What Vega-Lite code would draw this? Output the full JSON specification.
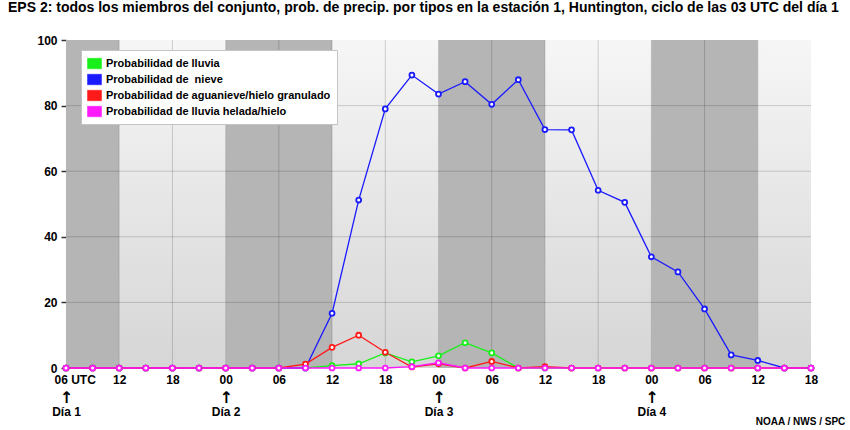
{
  "$schema": "https://vega.github.io/schema/vega-lite/v6.json",
  "autosize": {"type": "none"},
  "width": 745,
  "height": 328,
  "padding": {"left": 66, "top": 40, "right": 39, "bottom": 62},
  "background": "white",
  "title": {
    "text": "EPS 2: todos los miembros del conjunto, prob. de precip. por tipos en la estación 1, Huntington, ciclo de las 03 UTC del día 1",
    "anchor": "start",
    "frame": "group",
    "dx": -58,
    "offset": 8,
    "baseline": "alphabetic",
    "font": "Liberation Sans",
    "fontSize": 14,
    "fontWeight": "bold",
    "color": "#000000"
  },
  "config": {
    "view": {"stroke": null},
    "font": "Liberation Sans"
  },
  "datasets": {
    "dark": [{"a": 0, "b": 6}, {"a": 18, "b": 30}, {"a": 42, "b": 54}, {"a": 66, "b": 78}],
    "light": [{"a": 6, "b": 18}, {"a": 30, "b": 42}, {"a": 54, "b": 66}, {"a": 78, "b": 84}],
    "vgrid": [{"t": 6}, {"t": 12}, {"t": 18}, {"t": 24}, {"t": 30}, {"t": 36}, {"t": 42}, {"t": 48}, {"t": 54}, {"t": 60}, {"t": 66}, {"t": 72}, {"t": 78}],
    "hgrid": [{"g": 20}, {"g": 40}, {"g": 60}, {"g": 80}],
    "series": [
      {"s": "Probabilidad de lluvia", "t": 0, "v": 0},
      {"s": "Probabilidad de lluvia", "t": 3, "v": 0},
      {"s": "Probabilidad de lluvia", "t": 6, "v": 0},
      {"s": "Probabilidad de lluvia", "t": 9, "v": 0},
      {"s": "Probabilidad de lluvia", "t": 12, "v": 0},
      {"s": "Probabilidad de lluvia", "t": 15, "v": 0},
      {"s": "Probabilidad de lluvia", "t": 18, "v": 0},
      {"s": "Probabilidad de lluvia", "t": 21, "v": 0},
      {"s": "Probabilidad de lluvia", "t": 24, "v": 0},
      {"s": "Probabilidad de lluvia", "t": 27, "v": 0},
      {"s": "Probabilidad de lluvia", "t": 30, "v": 0.7},
      {"s": "Probabilidad de lluvia", "t": 33, "v": 1.3},
      {"s": "Probabilidad de lluvia", "t": 36, "v": 4.6},
      {"s": "Probabilidad de lluvia", "t": 39, "v": 1.9},
      {"s": "Probabilidad de lluvia", "t": 42, "v": 3.7},
      {"s": "Probabilidad de lluvia", "t": 45, "v": 7.7},
      {"s": "Probabilidad de lluvia", "t": 48, "v": 4.6},
      {"s": "Probabilidad de lluvia", "t": 51, "v": 0},
      {"s": "Probabilidad de lluvia", "t": 54, "v": 0},
      {"s": "Probabilidad de lluvia", "t": 57, "v": 0},
      {"s": "Probabilidad de lluvia", "t": 60, "v": 0},
      {"s": "Probabilidad de lluvia", "t": 63, "v": 0},
      {"s": "Probabilidad de lluvia", "t": 66, "v": 0},
      {"s": "Probabilidad de lluvia", "t": 69, "v": 0},
      {"s": "Probabilidad de lluvia", "t": 72, "v": 0},
      {"s": "Probabilidad de lluvia", "t": 75, "v": 0},
      {"s": "Probabilidad de lluvia", "t": 78, "v": 0},
      {"s": "Probabilidad de lluvia", "t": 81, "v": 0},
      {"s": "Probabilidad de lluvia", "t": 84, "v": 0},
      {"s": "Probabilidad de \u00a0nieve", "t": 0, "v": 0},
      {"s": "Probabilidad de \u00a0nieve", "t": 3, "v": 0},
      {"s": "Probabilidad de \u00a0nieve", "t": 6, "v": 0},
      {"s": "Probabilidad de \u00a0nieve", "t": 9, "v": 0},
      {"s": "Probabilidad de \u00a0nieve", "t": 12, "v": 0},
      {"s": "Probabilidad de \u00a0nieve", "t": 15, "v": 0},
      {"s": "Probabilidad de \u00a0nieve", "t": 18, "v": 0},
      {"s": "Probabilidad de \u00a0nieve", "t": 21, "v": 0},
      {"s": "Probabilidad de \u00a0nieve", "t": 24, "v": 0},
      {"s": "Probabilidad de \u00a0nieve", "t": 27, "v": 0},
      {"s": "Probabilidad de \u00a0nieve", "t": 30, "v": 16.7},
      {"s": "Probabilidad de \u00a0nieve", "t": 33, "v": 51.2},
      {"s": "Probabilidad de \u00a0nieve", "t": 36, "v": 79.0},
      {"s": "Probabilidad de \u00a0nieve", "t": 39, "v": 89.3},
      {"s": "Probabilidad de \u00a0nieve", "t": 42, "v": 83.5},
      {"s": "Probabilidad de \u00a0nieve", "t": 45, "v": 87.3},
      {"s": "Probabilidad de \u00a0nieve", "t": 48, "v": 80.4},
      {"s": "Probabilidad de \u00a0nieve", "t": 51, "v": 87.9},
      {"s": "Probabilidad de \u00a0nieve", "t": 54, "v": 72.7},
      {"s": "Probabilidad de \u00a0nieve", "t": 57, "v": 72.6},
      {"s": "Probabilidad de \u00a0nieve", "t": 60, "v": 54.2},
      {"s": "Probabilidad de \u00a0nieve", "t": 63, "v": 50.5},
      {"s": "Probabilidad de \u00a0nieve", "t": 66, "v": 33.9},
      {"s": "Probabilidad de \u00a0nieve", "t": 69, "v": 29.3},
      {"s": "Probabilidad de \u00a0nieve", "t": 72, "v": 18.0},
      {"s": "Probabilidad de \u00a0nieve", "t": 75, "v": 4.0},
      {"s": "Probabilidad de \u00a0nieve", "t": 78, "v": 2.3},
      {"s": "Probabilidad de \u00a0nieve", "t": 81, "v": 0},
      {"s": "Probabilidad de \u00a0nieve", "t": 84, "v": 0},
      {"s": "Probabilidad de aguanieve/hielo granulado", "t": 0, "v": 0},
      {"s": "Probabilidad de aguanieve/hielo granulado", "t": 3, "v": 0},
      {"s": "Probabilidad de aguanieve/hielo granulado", "t": 6, "v": 0},
      {"s": "Probabilidad de aguanieve/hielo granulado", "t": 9, "v": 0},
      {"s": "Probabilidad de aguanieve/hielo granulado", "t": 12, "v": 0},
      {"s": "Probabilidad de aguanieve/hielo granulado", "t": 15, "v": 0},
      {"s": "Probabilidad de aguanieve/hielo granulado", "t": 18, "v": 0},
      {"s": "Probabilidad de aguanieve/hielo granulado", "t": 21, "v": 0},
      {"s": "Probabilidad de aguanieve/hielo granulado", "t": 24, "v": 0},
      {"s": "Probabilidad de aguanieve/hielo granulado", "t": 27, "v": 1.2},
      {"s": "Probabilidad de aguanieve/hielo granulado", "t": 30, "v": 6.3},
      {"s": "Probabilidad de aguanieve/hielo granulado", "t": 33, "v": 10.0},
      {"s": "Probabilidad de aguanieve/hielo granulado", "t": 36, "v": 4.8},
      {"s": "Probabilidad de aguanieve/hielo granulado", "t": 39, "v": 0.3},
      {"s": "Probabilidad de aguanieve/hielo granulado", "t": 42, "v": 1.3},
      {"s": "Probabilidad de aguanieve/hielo granulado", "t": 45, "v": 0},
      {"s": "Probabilidad de aguanieve/hielo granulado", "t": 48, "v": 2.0},
      {"s": "Probabilidad de aguanieve/hielo granulado", "t": 51, "v": 0},
      {"s": "Probabilidad de aguanieve/hielo granulado", "t": 54, "v": 0.4},
      {"s": "Probabilidad de aguanieve/hielo granulado", "t": 57, "v": 0},
      {"s": "Probabilidad de aguanieve/hielo granulado", "t": 60, "v": 0},
      {"s": "Probabilidad de aguanieve/hielo granulado", "t": 63, "v": 0},
      {"s": "Probabilidad de aguanieve/hielo granulado", "t": 66, "v": 0},
      {"s": "Probabilidad de aguanieve/hielo granulado", "t": 69, "v": 0},
      {"s": "Probabilidad de aguanieve/hielo granulado", "t": 72, "v": 0},
      {"s": "Probabilidad de aguanieve/hielo granulado", "t": 75, "v": 0},
      {"s": "Probabilidad de aguanieve/hielo granulado", "t": 78, "v": 0},
      {"s": "Probabilidad de aguanieve/hielo granulado", "t": 81, "v": 0},
      {"s": "Probabilidad de aguanieve/hielo granulado", "t": 84, "v": 0},
      {"s": "Probabilidad de lluvia helada/hielo", "t": 0, "v": 0},
      {"s": "Probabilidad de lluvia helada/hielo", "t": 3, "v": 0},
      {"s": "Probabilidad de lluvia helada/hielo", "t": 6, "v": 0},
      {"s": "Probabilidad de lluvia helada/hielo", "t": 9, "v": 0},
      {"s": "Probabilidad de lluvia helada/hielo", "t": 12, "v": 0},
      {"s": "Probabilidad de lluvia helada/hielo", "t": 15, "v": 0},
      {"s": "Probabilidad de lluvia helada/hielo", "t": 18, "v": 0},
      {"s": "Probabilidad de lluvia helada/hielo", "t": 21, "v": 0},
      {"s": "Probabilidad de lluvia helada/hielo", "t": 24, "v": 0},
      {"s": "Probabilidad de lluvia helada/hielo", "t": 27, "v": 0},
      {"s": "Probabilidad de lluvia helada/hielo", "t": 30, "v": 0},
      {"s": "Probabilidad de lluvia helada/hielo", "t": 33, "v": 0},
      {"s": "Probabilidad de lluvia helada/hielo", "t": 36, "v": 0},
      {"s": "Probabilidad de lluvia helada/hielo", "t": 39, "v": 0.4},
      {"s": "Probabilidad de lluvia helada/hielo", "t": 42, "v": 1.6},
      {"s": "Probabilidad de lluvia helada/hielo", "t": 45, "v": 0},
      {"s": "Probabilidad de lluvia helada/hielo", "t": 48, "v": 0},
      {"s": "Probabilidad de lluvia helada/hielo", "t": 51, "v": 0},
      {"s": "Probabilidad de lluvia helada/hielo", "t": 54, "v": 0},
      {"s": "Probabilidad de lluvia helada/hielo", "t": 57, "v": 0},
      {"s": "Probabilidad de lluvia helada/hielo", "t": 60, "v": 0},
      {"s": "Probabilidad de lluvia helada/hielo", "t": 63, "v": 0},
      {"s": "Probabilidad de lluvia helada/hielo", "t": 66, "v": 0},
      {"s": "Probabilidad de lluvia helada/hielo", "t": 69, "v": 0},
      {"s": "Probabilidad de lluvia helada/hielo", "t": 72, "v": 0},
      {"s": "Probabilidad de lluvia helada/hielo", "t": 75, "v": 0},
      {"s": "Probabilidad de lluvia helada/hielo", "t": 78, "v": 0},
      {"s": "Probabilidad de lluvia helada/hielo", "t": 81, "v": 0},
      {"s": "Probabilidad de lluvia helada/hielo", "t": 84, "v": 0}
    ]
  },
  "resolve": {"axis": {"x": "independent"}},
  "layer": [
    {
      "data": {"name": "dark"},
      "mark": {"type": "rect", "color": "#b5b5b5"},
      "encoding": {
        "x": {
          "field": "a", "type": "quantitative",
          "scale": {"domain": [0, 84], "nice": false, "zero": false},
          "axis": {
            "orient": "bottom",
            "values": [0, 18, 42, 66],
            "labelExpr": "'↑'",
            "domain": false,
            "ticks": false,
            "tickSize": 0,
            "grid": false,
            "title": null,
            "labelFlush": false,
            "labelOverlap": false,
            "labelBound": false,
            "labelFont": "DejaVu Sans",
            "labelFontWeight": "bold",
            "labelFontSize": 16,
            "labelColor": "#000000",
            "labelPadding": 21
          }
        },
        "x2": {"field": "b"}
      }
    },
    {
      "data": {"name": "light"},
      "mark": {
        "type": "rect",
        "color": {
          "gradient": "linear", "x1": 0, "y1": 0, "x2": 0, "y2": 1,
          "stops": [{"offset": 0, "color": "#f6f6f6"}, {"offset": 1, "color": "#d6d6d6"}]
        }
      },
      "encoding": {
        "x": {"field": "a", "type": "quantitative", "scale": {"domain": [0, 84], "nice": false, "zero": false}, "axis": null},
        "x2": {"field": "b"}
      }
    },
    {
      "data": {"name": "hgrid"},
      "mark": {"type": "rule", "color": "#000000", "opacity": 0.17, "strokeWidth": 1},
      "encoding": {
        "y": {
          "field": "g", "type": "quantitative",
          "scale": {"domain": [0, 100], "nice": false}
        }
      }
    },
    {
      "data": {"name": "vgrid"},
      "mark": {"type": "rule", "color": "#000000", "opacity": 0.17, "strokeWidth": 1},
      "encoding": {
        "x": {
          "field": "t", "type": "quantitative",
          "scale": {"domain": [0, 84], "nice": false, "zero": false},
          "axis": {
            "orient": "bottom",
            "values": [0, 18, 42, 66, 84],
            "labelExpr": "datum.value == 84 ? 'NOAA / NWS / SPC' : 'Día ' + (datum.value == 0 ? '1' : datum.value == 18 ? '2' : datum.value == 42 ? '3' : '4')",
            "domain": false,
            "ticks": false,
            "tickSize": 0,
            "grid": false,
            "title": null,
            "labelFlush": false,
            "labelOverlap": false,
            "labelBound": false,
            "labelFont": "Liberation Sans",
            "labelFontWeight": "bold",
            "labelColor": "#000000",
            "labelFontSize": {"condition": {"test": "datum.value == 84", "value": 10}, "value": 12},
            "labelPadding": {"condition": {"test": "datum.value == 84", "value": 48}, "value": 38},
            "labelOffset": {"condition": {"test": "datum.value == 84", "value": -11}, "value": 0}
          }
        }
      }
    },
    {
      "data": {"name": "series"},
      "mark": {"type": "line", "strokeWidth": 1.3},
      "encoding": {
        "x": {
          "field": "t", "type": "quantitative",
          "scale": {"domain": [0, 84], "nice": false, "zero": false},
          "axis": {
            "orient": "bottom",
            "values": [0, 6, 12, 18, 24, 30, 36, 42, 48, 54, 60, 66, 72, 78, 84],
            "labelExpr": "datum.value == 0 ? '06 UTC' : ((((6 + datum.value) % 24) < 10) ? '0' : '') + ((6 + datum.value) % 24)",
            "domain": false,
            "ticks": false,
            "tickSize": 0,
            "grid": false,
            "title": null,
            "labelFlush": false,
            "labelOverlap": false,
            "labelBound": false,
            "labelFont": "Liberation Sans",
            "labelFontWeight": "bold",
            "labelFontSize": 12,
            "labelColor": "#000000",
            "labelPadding": 6,
            "labelAlign": {"condition": {"test": "datum.value == 0", "value": "left"}, "value": "center"},
            "labelOffset": {"condition": {"test": "datum.value == 0", "value": -12}, "value": 0}
          }
        },
        "y": {
          "field": "v", "type": "quantitative",
          "scale": {"domain": [0, 100], "nice": false},
          "axis": {
            "orient": "left",
            "values": [0, 20, 40, 60, 80, 100],
            "domain": false,
            "grid": false,
            "title": null,
            "ticks": true,
            "tickSize": 5,
            "tickWidth": 1.5,
            "tickColor": "#333333",
            "labelPadding": 4,
            "labelOverlap": false,
            "labelFont": "Liberation Sans",
            "labelFontWeight": "bold",
            "labelFontSize": 12,
            "labelColor": "#000000"
          }
        },
        "color": {
          "field": "s", "type": "nominal",
          "scale": {
            "domain": ["Probabilidad de lluvia", "Probabilidad de \u00a0nieve", "Probabilidad de aguanieve/hielo granulado", "Probabilidad de lluvia helada/hielo"],
            "range": ["#19f019", "#1a1aff", "#ff1a1a", "#ff19ff"]
          },
          "legend": {
            "orient": "none",
            "legendX": 15,
            "legendY": 10,
            "title": null,
            "fillColor": "#ffffff",
            "strokeColor": "#c4c4c4",
            "padding": 6,
            "symbolType": "M-1,-0.75H1V0.75H-1Z",
            "symbolSize": 196,
            "symbolStrokeWidth": 0,
            "labelFont": "Liberation Sans",
            "labelFontSize": 11,
            "labelFontWeight": "bold",
            "labelColor": "#000000",
            "labelOffset": 4,
            "labelLimit": 300,
            "rowPadding": 2,
            "encode": {
              "symbols": {
                "update": {
                  "fill": {"scale": "color", "field": "value"},
                  "fillOpacity": {"value": 1},
                  "stroke": {"value": "#999999"},
                  "strokeWidth": {"value": 0.5}
                }
              }
            }
          }
        }
      }
    },
    {
      "data": {"name": "series"},
      "mark": {"type": "point", "shape": "circle", "filled": false, "fill": "white", "fillOpacity": 1, "opacity": 1, "size": 24, "strokeWidth": 1.8},
      "encoding": {
        "x": {"field": "t", "type": "quantitative", "scale": {"domain": [0, 84], "nice": false, "zero": false}, "axis": null},
        "y": {"field": "v", "type": "quantitative", "scale": {"domain": [0, 100], "nice": false}},
        "color": {"field": "s", "type": "nominal", "legend": null}
      }
    }
  ]
}
